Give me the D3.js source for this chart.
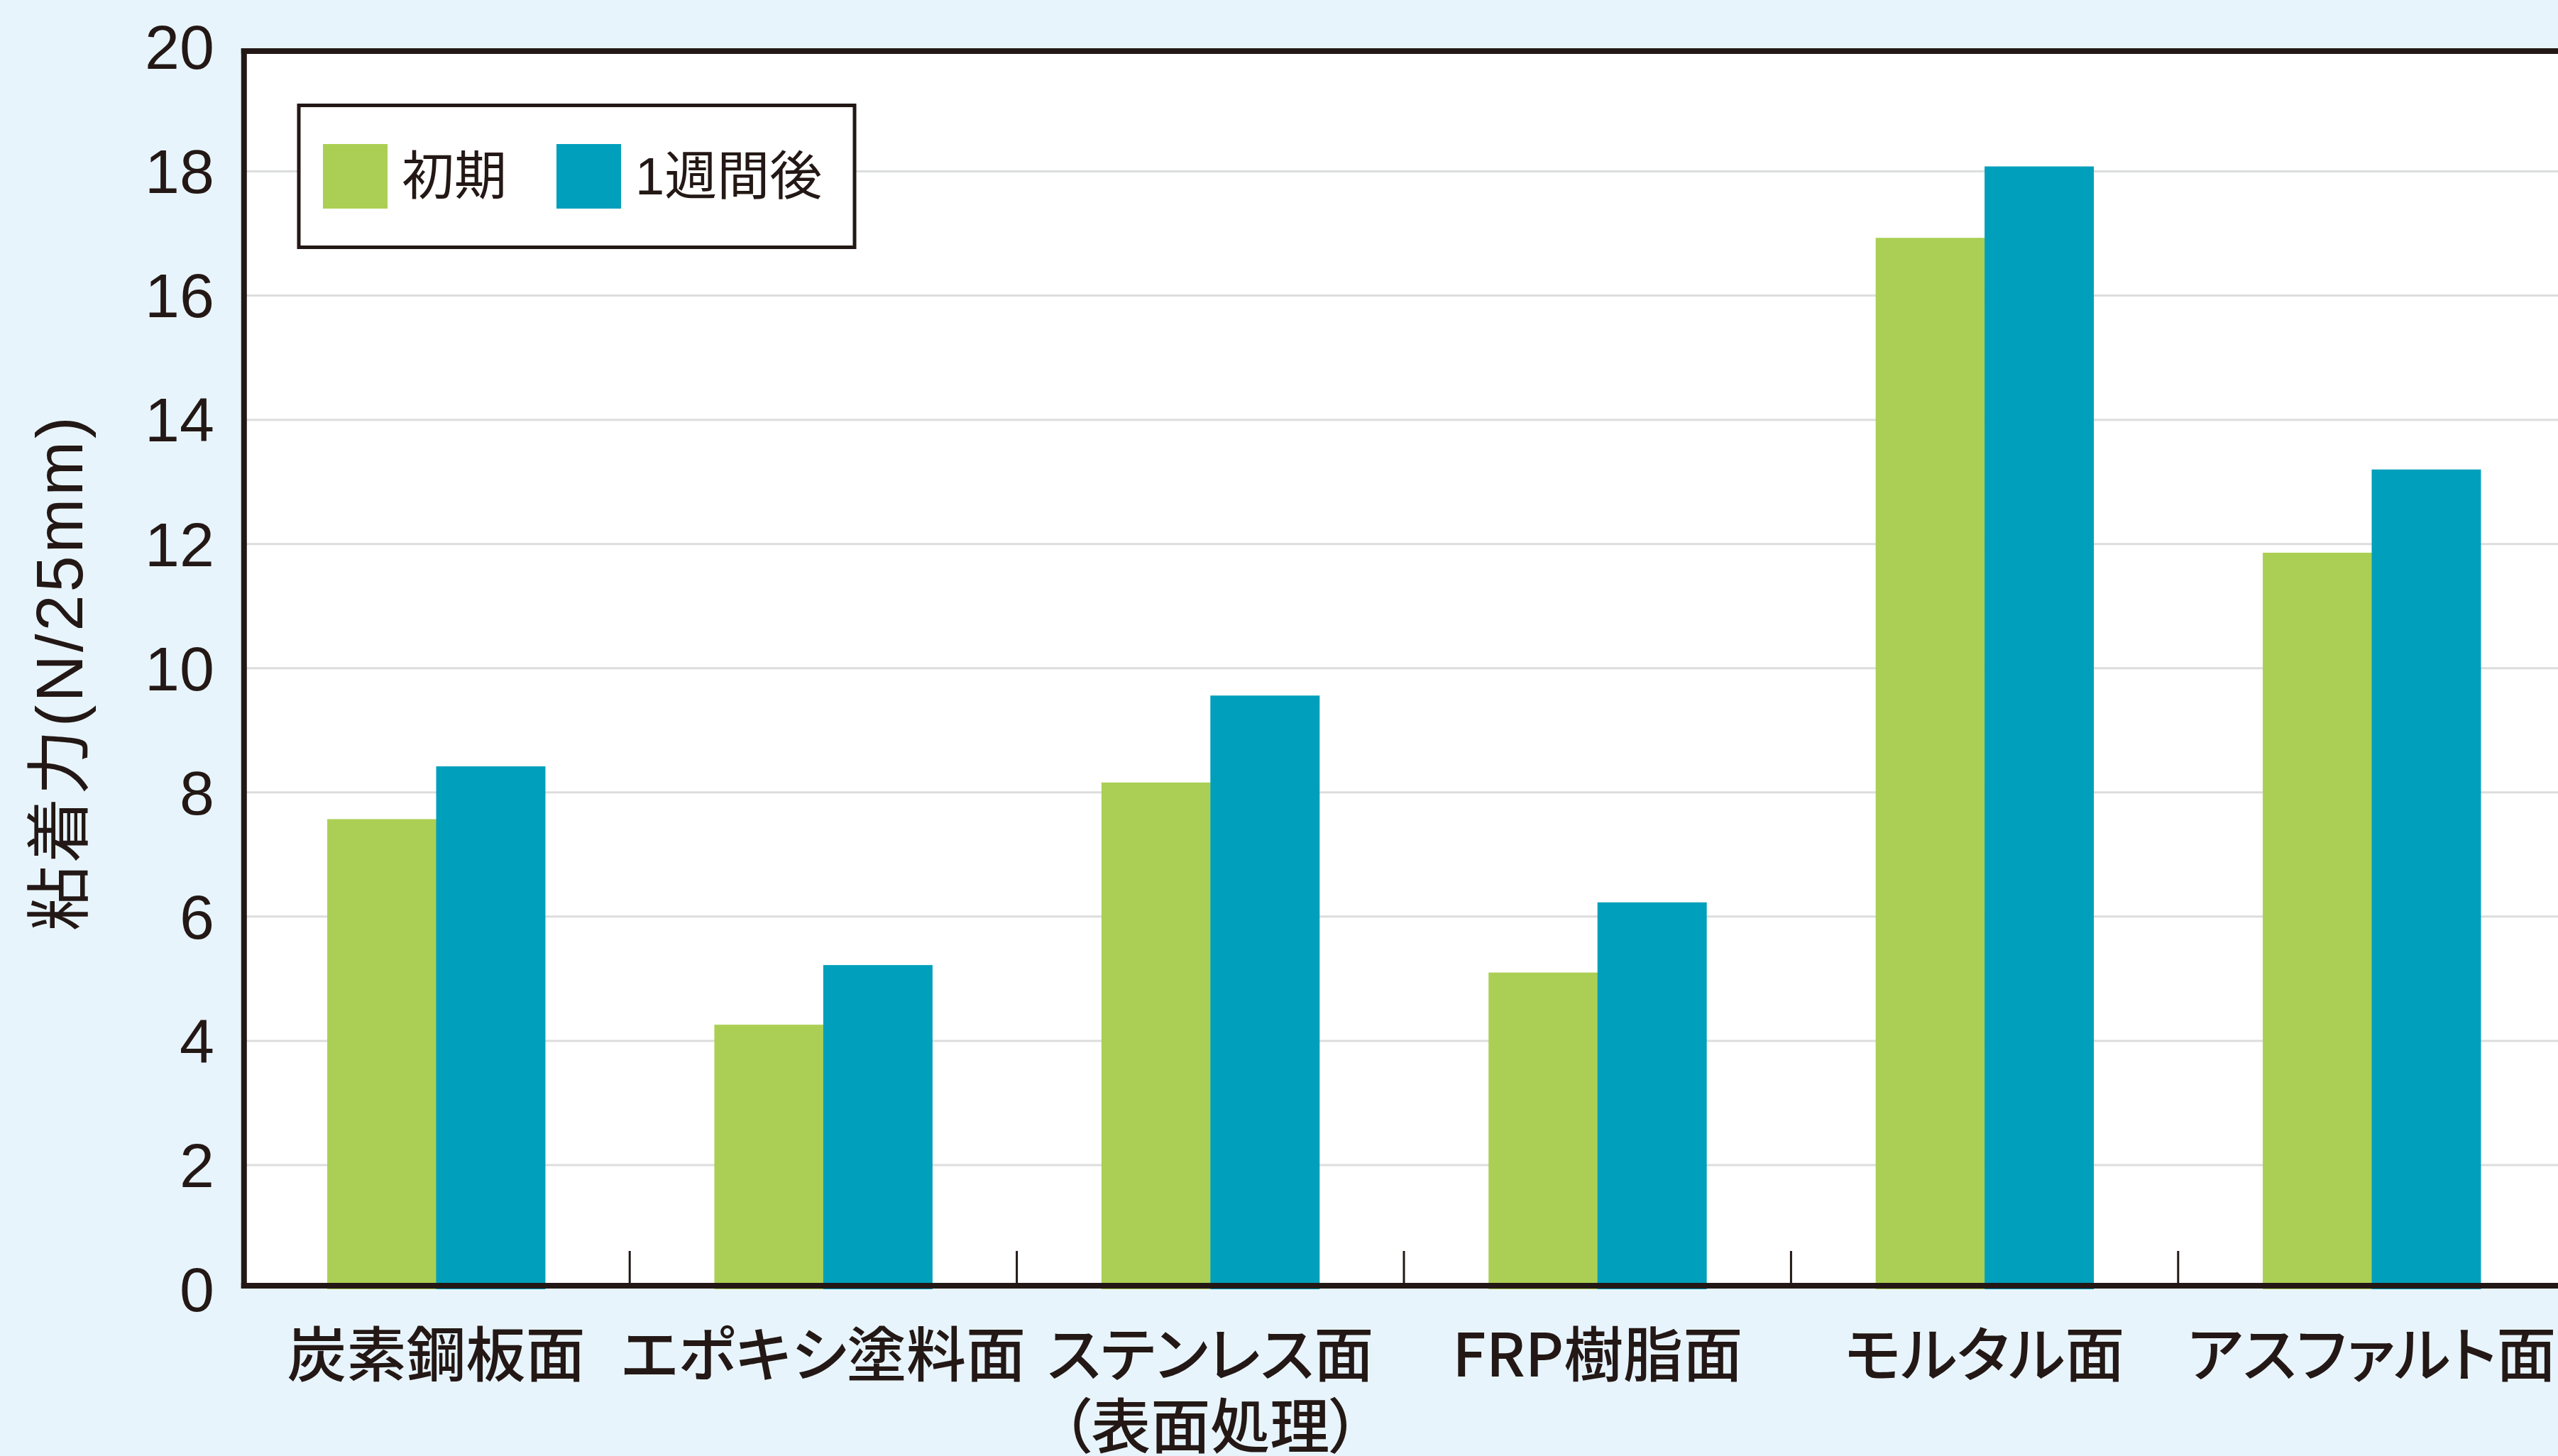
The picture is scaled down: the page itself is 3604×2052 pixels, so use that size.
<!DOCTYPE html>
<html>
<head>
<meta charset="utf-8">
<script src="https://cdn.jsdelivr.net/npm/d3@7"></script>
<style>
  body { margin: 0; background: #e8f4fc; }
  svg { display: block; }
</style>
</head>
<body>
<div id="chart"></div>
<script>
// categories along the x axis (second line only where the label wraps)
var categories = ["炭素鋼板面", "エポキシ塗料面", "ステンレス面", "FRP樹脂面", "モルタル面", "アスファルト面"];
var subLabels = ["", "", "（表面処理）", "", "", ""];

// the two series
var series = ["初期", "1週間後"];
var initialValues = [7.57, 4.26, 8.16, 5.10, 16.93, 11.86];
var weekValues = [8.42, 5.22, 9.56, 6.23, 18.08, 13.20];

var yTicks = [0, 2, 4, 6, 8, 10, 12, 14, 16, 18, 20];
var yLabel = "粘着力(N/25mm)";

var colours = ["#abcf54", "#009fbb"];
var ink = "#231815";

var width = 3604;
var height = 2052;
var margin = { top: 66.5, left: 341.8, bottom: 1817 };

var data = categories.map(function(c, i) {
    return { cat: c, sub: subLabels[i], values: [initialValues[i], weekValues[i]] };
});

var svg = d3.select("#chart")
    .append("svg")
    .attr("width", width)
    .attr("height", height);

// band scale runs a little past the right edge, like the original
var x0 = d3.scaleBand()
    .domain(categories)
    .range([margin.left, margin.left + 545.4 * categories.length])
    .padding(0);

var x1 = d3.scaleBand()
    .domain(series)
    .range([0, x0.bandwidth()])
    .paddingInner(0)
    .paddingOuter(0.777);

var y = d3.scaleLinear()
    .domain([0, 20])
    .range([margin.bottom, margin.top]);

var left = x0.range()[0] + 2;

// white plot area
svg.append("rect")
    .attr("x", left)
    .attr("y", y(20) + 5)
    .attr("width", width - left)
    .attr("height", y(0) - y(20) - 10)
    .attr("fill", "#ffffff");

// gridlines
svg.selectAll(".grid")
    .data(yTicks.filter(function(t) { return t > 0 && t < 20; }))
    .enter().append("line")
    .attr("class", "grid")
    .attr("x1", left)
    .attr("x2", width)
    .attr("y1", function(d) { return y(d); })
    .attr("y2", function(d) { return y(d); })
    .attr("stroke", "#dcdddd")
    .attr("stroke-width", 3);

// bars
var groups = svg.selectAll(".cat")
    .data(data)
    .enter().append("g")
    .attr("class", "cat")
    .attr("transform", function(d) { return "translate(" + x0(d.cat) + ",0)"; });

groups.selectAll("rect")
    .data(function(d) { return d.values.map(function(v, i) { return { s: series[i], v: v, i: i }; }); })
    .enter().append("rect")
    .attr("x", function(d) { return x1(d.s); })
    .attr("y", function(d) { return y(d.v); })
    .attr("width", x1.bandwidth() + 0.5)
    .attr("height", function(d) { return y(0) - y(d.v); })
    .attr("fill", function(d) { return colours[d.i]; });

// frame: top, bottom, left
svg.append("line")
    .attr("x1", left - 4).attr("x2", width)
    .attr("y1", y(20) + 5.5).attr("y2", y(20) + 5.5)
    .attr("stroke", ink).attr("stroke-width", 8);

svg.append("line")
    .attr("x1", left - 4).attr("x2", width)
    .attr("y1", y(0) - 5).attr("y2", y(0) - 5)
    .attr("stroke", ink).attr("stroke-width", 8);

svg.append("line")
    .attr("x1", left).attr("x2", left)
    .attr("y1", y(20) + 1.5).attr("y2", y(0) - 1)
    .attr("stroke", ink).attr("stroke-width", 8);

// category separators pointing up into the plot
svg.selectAll(".sep")
    .data(categories.slice(1))
    .enter().append("line")
    .attr("class", "sep")
    .attr("x1", function(d) { return x0(d); })
    .attr("x2", function(d) { return x0(d); })
    .attr("y1", y(0) - 54)
    .attr("y2", y(0) - 5)
    .attr("stroke", ink)
    .attr("stroke-width", 3);

// y tick labels
svg.selectAll(".ytick")
    .data(yTicks)
    .enter().append("text")
    .attr("class", "ytick")
    .attr("x", 302)
    .attr("y", function(d) { return y(d); })
    .attr("dy", "0.35em")
    .attr("text-anchor", "end")
    .attr("font-family", "'Liberation Sans', Arial, sans-serif")
    .attr("font-size", 88)
    .attr("fill", ink)
    .text(function(d) { return d; });

// y axis title
svg.append("text")
    .attr("transform", "translate(84," + ((y(0) + y(20)) / 2 + 6) + ") rotate(-90)")
    .attr("text-anchor", "middle")
    .attr("dominant-baseline", "central")
    .attr("font-family", "'Liberation Sans', 'Noto Sans CJK JP', sans-serif")
    .attr("font-size", 92)
    .attr("letter-spacing", 4)
    .attr("fill", ink)
    .text(yLabel);

// x category labels
var xl = svg.selectAll(".xlab")
    .data(data)
    .enter().append("g")
    .attr("class", "xlab")
    .attr("transform", function(d) { return "translate(" + (x0(d.cat) + x0.bandwidth() / 2) + ",0)"; });

xl.append("text")
    .attr("y", 1903)
    .attr("text-anchor", "middle")
    .attr("dominant-baseline", "central")
    .attr("font-family", "'Noto Sans CJK JP', sans-serif")
    .attr("font-weight", 500)
    .attr("font-size", 84)
    .style("font-feature-settings", "'palt'")
    .attr("fill", ink)
    .text(function(d) { return d.cat; });

xl.append("text")
    .attr("y", 2004)
    .attr("text-anchor", "middle")
    .attr("dominant-baseline", "central")
    .attr("font-family", "'Noto Sans CJK JP', sans-serif")
    .attr("font-weight", 500)
    .attr("font-size", 84)
    .style("font-feature-settings", "'palt'")
    .attr("fill", ink)
    .text(function(d) { return d.sub; });

// legend
var legend = svg.append("g").attr("class", "legend");

legend.append("rect")
    .attr("x", 421)
    .attr("y", 148.5)
    .attr("width", 783)
    .attr("height", 200)
    .attr("fill", "#ffffff")
    .attr("stroke", ink)
    .attr("stroke-width", 5);

var swatchX = [455, 784];
var item = legend.selectAll(".item")
    .data(series)
    .enter().append("g")
    .attr("class", "item")
    .attr("transform", function(d, i) { return "translate(" + swatchX[i] + ",203)"; });

item.append("rect")
    .attr("width", 91)
    .attr("height", 91)
    .attr("fill", function(d, i) { return colours[i]; });

item.append("text")
    .attr("x", 111)
    .attr("y", 45.5)
    .attr("dominant-baseline", "central")
    .attr("font-family", "'Liberation Sans', 'Noto Sans CJK JP', sans-serif")
    .attr("font-size", 74)
    .attr("fill", ink)
    .text(function(d) { return d; });
</script>
</body>
</html>
